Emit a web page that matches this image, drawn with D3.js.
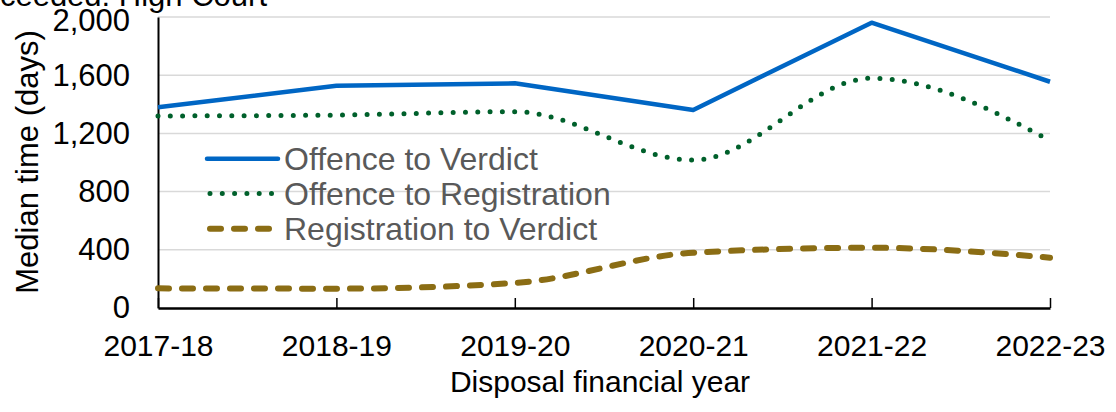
<!DOCTYPE html>
<html><head><meta charset="utf-8">
<script src="https://cdn.jsdelivr.net/npm/d3@7"></script>
<style>
html,body{margin:0;padding:0;background:#fff;}
svg{display:block;font-family:"Liberation Sans",Arial,sans-serif;}
</style></head>
<body><svg id="c" width="1116" height="412"></svg>
<script>
const categories = ["2017-18","2018-19","2019-20","2020-21","2021-22","2022-23"];
const offenceToVerdict = [1379,1528,1544,1361,1961,1555];
const offenceToRegistration = [1320,1326,1349,1017,1579,1152];
const registrationToVerdict = [135,133,172,380,414,346];
const yTicks = [0,400,800,1200,1600,2000];
const seriesNames = ["Offence to Verdict","Offence to Registration","Registration to Verdict"];

const svg = d3.select("#c");
const x = d3.scalePoint().domain(categories).range([158,1050]);
const y = d3.scaleLinear().domain([0,2000]).range([308,17]);

// title (partly cut off at top, as in reference)
svg.append("text").attr("x",267).attr("y",6).attr("text-anchor","end")
  .attr("font-size",31).attr("fill","#000").text("Proceeded: High Court");

// gridlines
svg.append("g").selectAll("line").data(yTicks.filter(d=>d>0)).join("line")
  .attr("x1",158).attr("x2",1050).attr("y1",d=>y(d)).attr("y2",d=>y(d))
  .attr("stroke","#d9d9d9").attr("stroke-width",1.5);

// y axis
const ya = svg.append("g").attr("transform","translate(158,0)")
  .call(d3.axisLeft(y).tickValues(yTicks).tickSize(0).tickPadding(28).tickFormat(d3.format(",")));
ya.select(".domain").attr("stroke","#000").attr("stroke-width",2);
ya.selectAll("text").attr("font-size",31).attr("fill","#000").attr("font-family","Liberation Sans, Arial, sans-serif");
ya.selectAll(".tick").filter(d=>d===2000).select("text").attr("dy","0.42em");

// x axis
const xa = svg.append("g").attr("transform","translate(0,308)")
  .call(d3.axisBottom(x).tickSize(-10).tickPadding(27).tickSizeOuter(0));
xa.select(".domain").attr("stroke","#000").attr("stroke-width",2.5);
xa.selectAll(".tick line").attr("stroke","#000").attr("stroke-width",1.5);
xa.selectAll("text").attr("font-size",30).attr("fill","#000").attr("font-family","Liberation Sans, Arial, sans-serif");

// axis titles
svg.append("text").attr("transform","translate(38,162) rotate(-90)").attr("text-anchor","middle")
  .attr("font-size",31).attr("fill","#000").text("Median time (days)");
svg.append("text").attr("x",600).attr("y",392).attr("text-anchor","middle")
  .attr("font-size",30).attr("fill","#000").text("Disposal financial year");

const styles = [
  {data:offenceToVerdict, color:"#0066c4", w:4.5, dash:null, curve:d3.curveLinear},
  {data:offenceToRegistration, color:"#00602b", w:5, dash:"0,12.3", curve:d3.curveMonotoneX},
  {data:registrationToVerdict, color:"#8b6d14", w:6, dash:"11,13", curve:d3.curveMonotoneX}
];
const plot = svg.append("g");
styles.forEach(s=>{
  const line = d3.line().x((d,i)=>x(categories[i])).y(d=>y(d)).curve(s.curve);
  plot.append("path").attr("d",line(s.data)).attr("fill","none")
    .attr("stroke",s.color).attr("stroke-width",s.w)
    .attr("stroke-linecap", s.dash? "round":"butt").attr("stroke-linejoin","round")
    .attr("stroke-dasharray",s.dash);
});

// legend
const lg = svg.append("g");
const legY = [158.7,193.5,228.7];
styles.forEach((s,i)=>{
  lg.append("line").attr("x1",s.dash?210:207).attr("x2",s.dash?276:278)
    .attr("y1",legY[i]).attr("y2",legY[i]).attr("stroke",s.color).attr("stroke-width",s.w)
    .attr("stroke-linecap","round").attr("stroke-dasharray",s.dash);
  lg.append("text").attr("x",284).attr("y",legY[i]).attr("dy","0.35em")
    .attr("font-size",32).attr("fill","#595959").text(seriesNames[i]);
});
</script></body></html>
